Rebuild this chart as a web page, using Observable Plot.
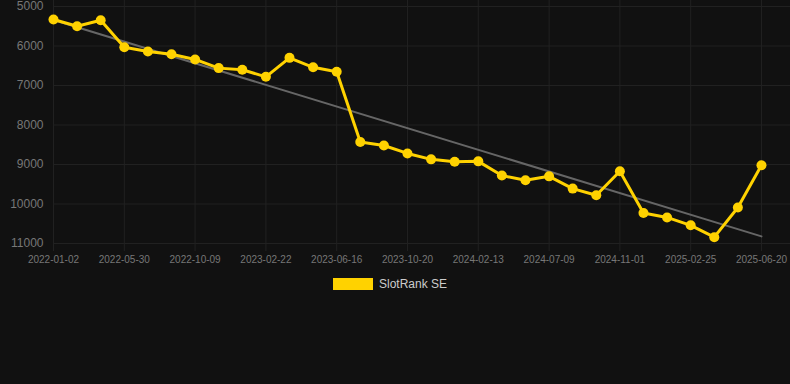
<!DOCTYPE html>
<html>
<head>
<meta charset="utf-8">
<script src="https://cdn.jsdelivr.net/npm/d3@7"></script>
<script src="https://cdn.jsdelivr.net/npm/@observablehq/plot@0.6"></script>
<style>
  html, body { margin: 0; padding: 0; background: #111111; }
  body { width: 790px; height: 384px; overflow: hidden; font-family: "Liberation Sans", Arial, sans-serif; }
  #legend { display: flex; align-items: center; margin-left: 333px; margin-top: 13px; height: 12px; }
  #legend .sw { width: 40px; height: 12px; background: #ffd200; }
  #legend .lb { margin-left: 6px; font-size: 12px; color: #cccccc; }
</style>
</head>
<body>
<div id="chart"></div>
<div id="legend"><div class="sw"></div><div class="lb">SlotRank SE</div></div>
<script>
const seriesName = "SlotRank SE";
const tickLabels = ["2022-01-02","2022-05-30","2022-10-09","2023-02-22","2023-06-16","2023-10-20","2024-02-13","2024-07-09","2024-11-01","2025-02-25","2025-06-20"];
const ranks = [5330,5500,5350,6030,6140,6210,6340,6560,6600,6780,6300,6540,6650,8430,8520,8720,8870,8930,8920,9280,9400,9300,9610,9780,9170,10230,10340,10540,10840,10090,9020];
const trendIdx = [0, 30];
const trendVals = [5340, 10820];
const yTicks = [5000, 6000, 7000, 8000, 9000, 10000, 11000];

const data = ranks.map((v, i) => ({i, v}));
const trend = trendIdx.map((i, k) => ({i, v: trendVals[k]}));
const tickIdx = tickLabels.map((_, k) => k * 3);

const chart = Plot.plot({
  width: 790,
  height: 265,
  marginLeft: 53,
  marginRight: 0,
  marginTop: 0,
  marginBottom: 22,
  style: { background: "#111111", color: "#777777", fontFamily: "'Liberation Sans', Arial, sans-serif", fontSize: "10px" },
  x: { type: "linear", domain: [0, 31.23] },
  y: { domain: [4848, 11000], reverse: true },
  marks: [
    Plot.gridX(tickIdx, { stroke: "#212121", strokeOpacity: 1 }),
    Plot.gridY(yTicks, { stroke: "#212121", strokeOpacity: 1 }),
    Plot.axisX(tickIdx, { tickFormat: d => tickLabels[d / 3], tickSize: 8, tickPadding: 4, stroke: "#212121", fill: "#777777", fontSize: 10, label: null }),
    Plot.axisY(yTicks, { tickFormat: d => String(d), tickSize: 0, tickPadding: 10, fill: "#777777", fontSize: 12, label: null }),
    Plot.line(trend, { x: "i", y: "v", stroke: "#666666", strokeWidth: 2 }),
    Plot.line(data, { x: "i", y: "v", stroke: "#ffd200", strokeWidth: 3 }),
    Plot.dot(data, { x: "i", y: "v", r: 5, fill: "#ffd200", stroke: "none" })
  ]
});
document.getElementById("chart").appendChild(chart);
</script>
</body>
</html>
